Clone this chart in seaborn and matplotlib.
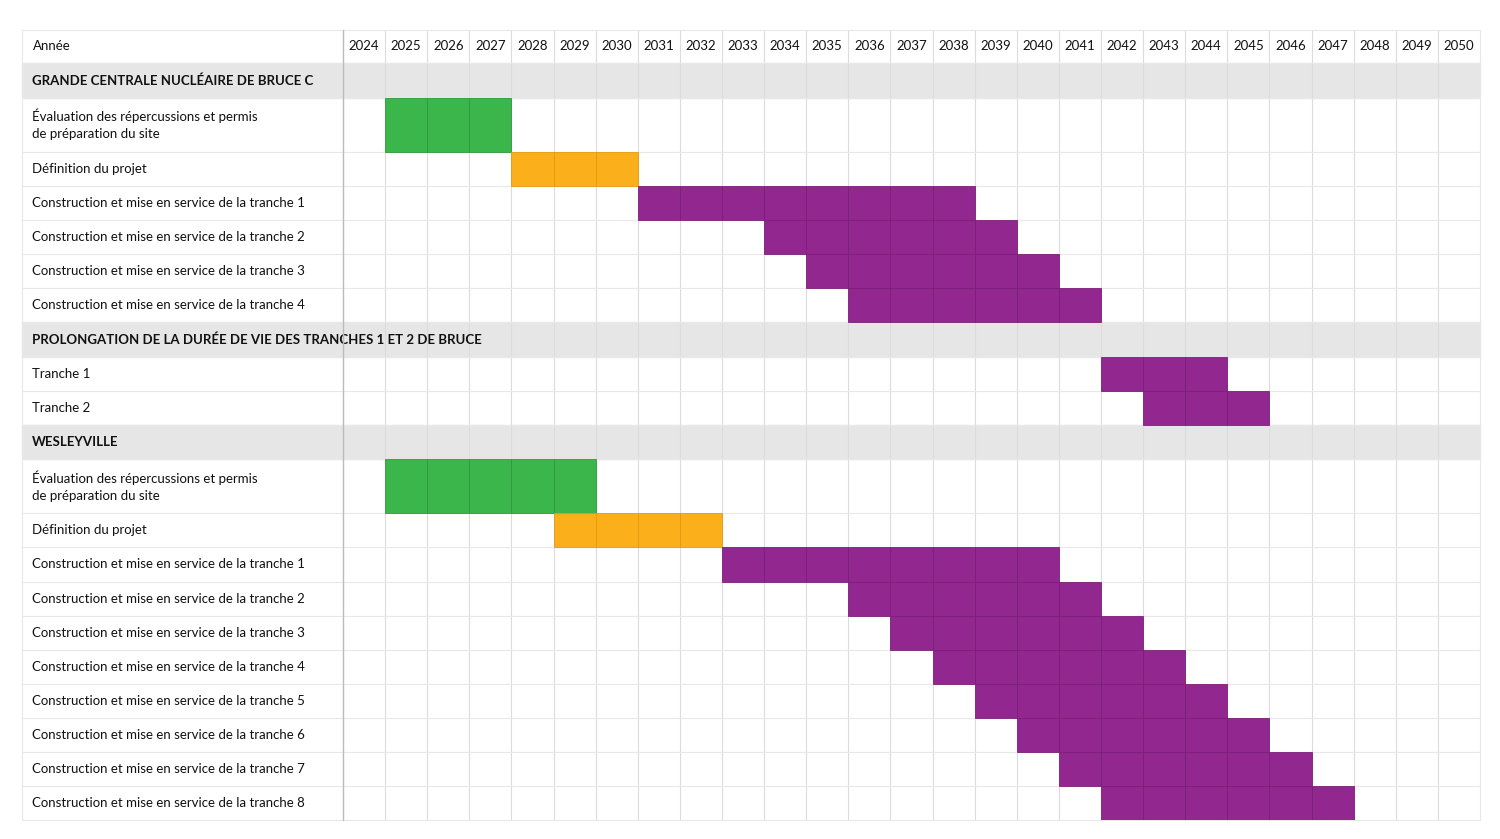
import matplotlib
matplotlib.use("Agg")
import matplotlib.pyplot as plt
import matplotlib.transforms as mtransforms
import seaborn as sns

sns.set_theme(style="white", font="Lato")

years = list(range(2024, 2051))

sections = [
    "GRANDE CENTRALE NUCLÉAIRE DE BRUCE C",
    "PROLONGATION DE LA DURÉE DE VIE DES TRANCHES 1 ET 2 DE BRUCE",
    "WESLEYVILLE",
]
# (section index, label, start year, end year, phase)
tasks = [
    (0, "Évaluation des répercussions et permis\nde préparation du site", 2025, 2027, "eval"),
    (0, "Définition du projet", 2028, 2030, "def"),
    (0, "Construction et mise en service de la tranche 1", 2031, 2038, "build"),
    (0, "Construction et mise en service de la tranche 2", 2034, 2039, "build"),
    (0, "Construction et mise en service de la tranche 3", 2035, 2040, "build"),
    (0, "Construction et mise en service de la tranche 4", 2036, 2041, "build"),
    (1, "Tranche 1", 2042, 2044, "build"),
    (1, "Tranche 2", 2043, 2045, "build"),
    (2, "Évaluation des répercussions et permis\nde préparation du site", 2025, 2029, "eval"),
    (2, "Définition du projet", 2029, 2032, "def"),
    (2, "Construction et mise en service de la tranche 1", 2033, 2040, "build"),
    (2, "Construction et mise en service de la tranche 2", 2036, 2041, "build"),
    (2, "Construction et mise en service de la tranche 3", 2037, 2042, "build"),
    (2, "Construction et mise en service de la tranche 4", 2038, 2043, "build"),
    (2, "Construction et mise en service de la tranche 5", 2039, 2044, "build"),
    (2, "Construction et mise en service de la tranche 6", 2040, 2045, "build"),
    (2, "Construction et mise en service de la tranche 7", 2041, 2046, "build"),
    (2, "Construction et mise en service de la tranche 8", 2042, 2047, "build"),
]
phase_colors = {"eval": "#3bb64a", "def": "#fbb01b", "build": "#92278f"}
edge_colors = {"eval": "#2e9a3c", "def": "#e09a10", "build": "#7c1f79"}

W, H = 1500, 839
fig = plt.figure(figsize=(W / 100, H / 100), dpi=100)
x0, x1, ytop, ybot = 343, 1480, 30, 820
left_px = 22
ax = fig.add_axes([x0 / W, 1 - ybot / H, (x1 - x0) / W, (ybot - ytop) / H])
ax.set_xlim(years[0] - 0.5, years[-1] + 0.5)
ax.set_ylim(ybot, ytop)
ax.axis("off")
trans = mtransforms.blended_transform_factory(fig.transFigure, ax.transData)

# build row layout (y in pixel-like units)
header_h, sec_h, row_h, tall_h = 33, 34.5, 34, 54
rows = []
y = ytop + header_h
cur = -1
for sec, label, s, e, ph in tasks:
    if sec != cur:
        rows.append(("section", sections[sec], y, sec_h, None))
        y += sec_h
        cur = sec
    h = tall_h if "\n" in label else row_h
    rows.append(("task", label, y, h, (s, e, ph)))
    y += h
scale = (ybot - ytop - header_h) / (y - ytop - header_h)
grid_c = "#dcdcdc"
lines = []
yy = ytop + header_h
for kind, label, y0, h, info in rows:
    h = h * scale
    lines.append(yy)
    if kind == "section":
        ax.add_patch(plt.Rectangle((left_px / W, yy), (x1 - left_px) / W, h,
                                   transform=trans, color="#e6e6e6", clip_on=False, zorder=0))
        ax.text((left_px + 10) / W, yy + h / 2, label, transform=trans, fontsize=9.5,
                fontweight="bold", va="center", ha="left", color="#111111")
    else:
        s, e, ph = info
        span = [yr for yr in years if s <= yr <= e]
        ax.barh([yy + h / 2] * len(span), [1] * len(span), left=[yr - 0.5 for yr in span],
                height=h, color=phase_colors[ph], edgecolor=edge_colors[ph], linewidth=0.6, zorder=2)
        ax.text((left_px + 10) / W, yy + h / 2, label, transform=trans, fontsize=9.5,
                va="center", ha="left", color="#111111", linespacing=1.5)
    yy += h
lines.append(yy)

# grid
for yr in years[1:]:
    ax.axvline(yr - 0.5, color=grid_c, lw=0.8, zorder=1)
for ly in [ytop] + lines:
    ax.plot([left_px / W, x1 / W], [ly, ly], transform=trans, color="#e8e8e8",
            lw=0.8, clip_on=False, zorder=1)
ax.plot([x0 / W, x0 / W], [ytop, ybot], transform=trans, color="#bbbbbb", lw=1, clip_on=False, zorder=3)
ax.plot([x1 / W, x1 / W], [ytop, ybot], transform=trans, color="#e8e8e8", lw=0.8, clip_on=False)
ax.plot([left_px / W, left_px / W], [ytop, ybot], transform=trans, color="#e8e8e8", lw=0.8, clip_on=False)

# header
ax.text((left_px + 11) / W, ytop + header_h / 2, "Année", transform=trans, fontsize=9.5,
        va="center", ha="left", color="#111111")
for yr in years:
    ax.text(yr, ytop + header_h / 2, str(yr), fontsize=9.5, va="center", ha="center", color="#111111")

fig.savefig("out.png", dpi=100, facecolor="white")
